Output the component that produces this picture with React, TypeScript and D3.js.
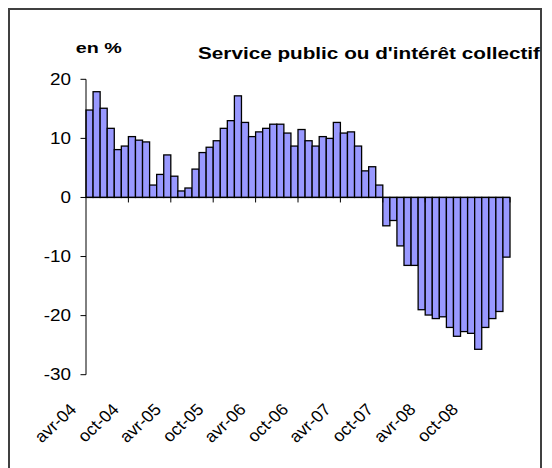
import React from "react";
import * as d3 from "d3";

const monthNames = ["janv", "févr", "mars", "avr", "mai", "juin", "juil", "août", "sept", "oct", "nov", "déc"];
const values = [
  14.8, 17.9, 15.1, 11.7, 8.1, 8.7, 10.3, 9.7, 9.4, 2.1,
  3.9, 7.2, 3.6, 1.1, 1.6, 4.8, 7.6, 8.5, 9.6, 11.7,
  13.0, 17.2, 12.7, 10.3, 11.1, 11.7, 12.4, 12.4, 10.9, 8.7,
  11.5, 9.6, 8.7, 10.3, 10.0, 12.7, 10.9, 11.1, 8.7, 4.5,
  5.2, 2.1, -4.8, -3.9, -8.2, -11.5, -11.5, -19.0, -19.9, -20.5,
  -20.2, -22.0, -23.5, -22.7, -23.0, -25.7, -22.0, -20.5, -19.3, -10.1,
];
const categories = values.map((_, i) => {
  const m = (3 + i) % 12;
  const y = 4 + Math.floor((3 + i) / 12);
  return `${monthNames[m]}-${String(y).padStart(2, "0")}`;
});
const yTicks = [20, 10, 0, -10, -20, -30];
const tickEvery = 6;
const title = "Service public ou d'intérêt collectif";
const unitLabel = "en %";

const W = 552;
const H = 468;
const FONT = "'Liberation Sans', Arial, sans-serif";
const Y_STRETCH = 1.18;
const X_STRETCH = 1.08;

export default function App() {
  const x = d3.scaleBand<number>().domain(d3.range(values.length)).range([86, 510]).padding(0);
  const y = d3.scaleLinear().domain([-30, 20]).range([374.7, 79.3]);
  const bw = x.bandwidth();

  return (
    <svg
      width={W}
      height={H}
      style={{ position: "absolute", left: 0, top: 0, background: "#fff" }}
      fontFamily={FONT}
    >
      <rect x={0} y={0} width={W} height={H} fill="#fff" />
      <rect x={9} y={9} width={532} height={480} fill="none" stroke="#404040" strokeWidth={2} />

      <text x={75.7} y={53} fontSize={15} fontWeight="bold" textLength={46} lengthAdjust="spacingAndGlyphs">
        {unitLabel}
      </text>
      <text x={198} y={59} fontSize={17} fontWeight="bold" textLength={342} lengthAdjust="spacingAndGlyphs">
        {title}
      </text>

      {/* bars */}
      {values.map((v, i) => (
        <rect
          key={i}
          x={x(i)!}
          y={y(Math.max(0, v))}
          width={bw}
          height={Math.abs(y(v) - y(0))}
          fill="#9999FF"
          stroke="#000"
          strokeWidth={1.3}
        />
      ))}

      {/* y axis */}
      <line x1={86} x2={86} y1={y(20)} y2={y(-30)} stroke="#000" strokeWidth={1} />
      {yTicks.map((t) => (
        <g key={t}>
          <line x1={80.5} x2={86} y1={y(t)} y2={y(t)} stroke="#000" strokeWidth={1} />
          <text
            transform={`translate(71,${y(t)}) scale(${Y_STRETCH},1)`}
            dy="0.36em"
            textAnchor="end"
            fontSize={16}
          >
            {t}
          </text>
        </g>
      ))}

      {/* x axis at zero */}
      <line x1={86} x2={510} y1={y(0)} y2={y(0)} stroke="#000" strokeWidth={1.3} />
      {d3.range(tickEvery, values.length + 1, tickEvery).map((k) => (
        <line key={k} x1={86 + k * bw} x2={86 + k * bw} y1={y(0)} y2={y(0) + 5} stroke="#000" strokeWidth={1} />
      ))}
      {categories.map((c, i) =>
        i % tickEvery === 0 ? (
          <text
            key={c}
            transform={`translate(${x(i)! + bw / 2 - 12},410.5) scale(${X_STRETCH},1) rotate(-45)`}
            textAnchor="end"
            fontSize={16.5}
          >
            {c}
          </text>
        ) : null
      )}
    </svg>
  );
}
